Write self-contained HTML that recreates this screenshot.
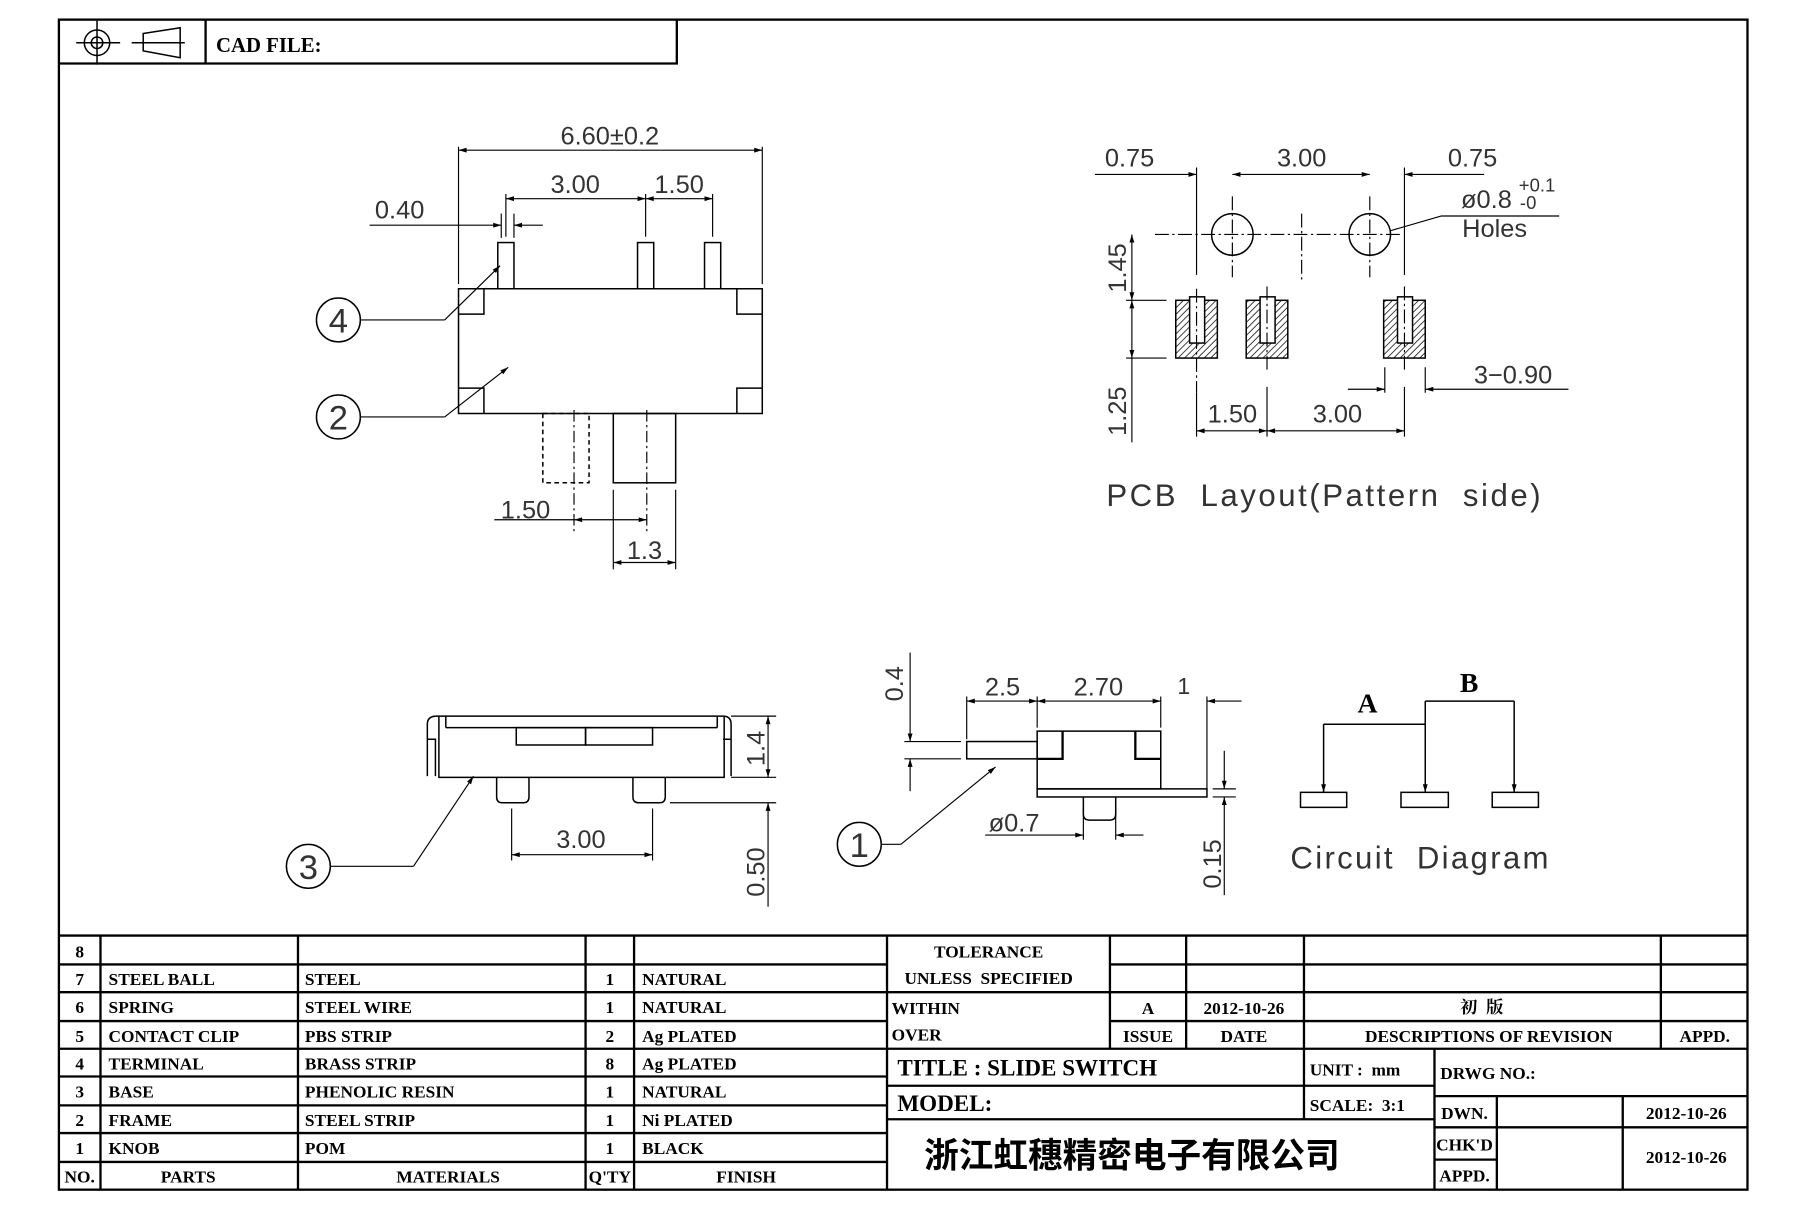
<!DOCTYPE html>
<html><head><meta charset="utf-8"><style>
html,body{margin:0;padding:0;background:#fff;}
svg{display:block;}
.d{font-family:"Liberation Sans",sans-serif;font-size:22px;fill:#333;}
.t{font-family:"Liberation Serif",serif;font-weight:bold;font-size:15px;fill:#000;}
</style></head><body>
<svg width="1811" height="1207" viewBox="0 0 1568 1045" preserveAspectRatio="none" xmlns="http://www.w3.org/2000/svg">
<defs>
<marker id="a" viewBox="0 0 10 10" refX="10" refY="5" markerWidth="9" markerHeight="7" orient="auto-start-reverse" markerUnits="userSpaceOnUse"><path d="M0,2 L10,5 L0,8z" fill="#000"/></marker>
<pattern id="h" width="4" height="4" patternUnits="userSpaceOnUse" patternTransform="rotate(45)"><rect width="4" height="4" fill="#fff"/><line x1="0" y1="0" x2="0" y2="4" stroke="#333" stroke-width="1.6"/></pattern>
</defs>
<g fill="none" stroke="#000" stroke-width="1.3">
<rect x="51" y="17" width="1462" height="1013" stroke-width="2"/>
<path d="M51 55 H586 V17 M178 17 V55" stroke-width="2"/>
<circle cx="84" cy="37" r="11"/><circle cx="84" cy="37" r="5"/><path d="M66 37 H104 M84 18 V56"/>
<path d="M124 29 L156 24 V50 L124 44Z M114 37 H160"/>
</g>
<text class="t" x="187" y="45" style="font-size:18px">CAD FILE:</text>

<g fill="none" stroke="#000" stroke-width="1.3">
<rect x="397" y="250" width="263" height="108"/>
<path d="M397 272 H419 V250 M660 272 H638 V250 M397 336 H419 V358 M660 336 H638 V358"/>
<rect x="431" y="210" width="14" height="40"/><rect x="552" y="210" width="14" height="40"/><rect x="610" y="210" width="14" height="40"/>
<path d="M397 246 V127 M660 246 V127" stroke-width="1"/>
<line x1="397" y1="130" x2="660" y2="130" marker-start="url(#a)" marker-end="url(#a)" stroke-width="1"/>
<path d="M438 205 V168 M559 205 V168 M617 205 V168" stroke-width="1"/>
<line x1="438" y1="172" x2="559" y2="172" marker-start="url(#a)" marker-end="url(#a)" stroke-width="1"/>
<line x1="559" y1="172" x2="617" y2="172" marker-start="url(#a)" marker-end="url(#a)" stroke-width="1"/>
<path d="M434 185 V206 M445 185 V206" stroke-width="1"/>
<line x1="320" y1="195" x2="434" y2="195" marker-end="url(#a)" stroke-width="1"/>
<line x1="470" y1="195" x2="445" y2="195" marker-end="url(#a)" stroke-width="1"/>
<rect x="470" y="358" width="40" height="60" stroke-dasharray="4 3"/>
<rect x="531" y="358" width="54" height="60"/>
<path d="M497 355 V460 M560 355 V460" stroke-dasharray="10 3 2 3" stroke-width="1"/>
<line x1="428" y1="450" x2="497" y2="450" stroke-width="1"/>
<line x1="497" y1="450" x2="560" y2="450" marker-start="url(#a)" marker-end="url(#a)" stroke-width="1"/>
<path d="M531 424 V493 M585 424 V493" stroke-width="1"/>
<line x1="531" y1="487" x2="585" y2="487" marker-start="url(#a)" marker-end="url(#a)" stroke-width="1"/>
<circle cx="293" cy="277" r="19"/><path d="M312 277 H385" stroke-width="1"/><line x1="385" y1="277" x2="433" y2="230" marker-end="url(#a)" stroke-width="1"/>
<circle cx="293" cy="361" r="19"/><path d="M312 361 H385" stroke-width="1"/><line x1="385" y1="361" x2="440" y2="318" marker-end="url(#a)" stroke-width="1"/>
</g>
<text class="d" x="528" y="125" text-anchor="middle">6.60±0.2</text>
<text class="d" x="498" y="167" text-anchor="middle">3.00</text>
<text class="d" x="588" y="167" text-anchor="middle">1.50</text>
<text class="d" x="346" y="189" text-anchor="middle">0.40</text>
<text class="d" x="455" y="449" text-anchor="middle">1.50</text>
<text class="d" x="558" y="484" text-anchor="middle">1.3</text>
<text class="d" x="293" y="288" text-anchor="middle" style="font-size:30px">4</text>
<text class="d" x="293" y="372" text-anchor="middle" style="font-size:30px">2</text>

<g fill="none" stroke="#000" stroke-width="1.3">
<rect x="1018" y="260" width="36" height="50" fill="url(#h)"/>
<rect x="1079" y="260" width="36" height="50" fill="url(#h)"/>
<rect x="1198" y="260" width="36" height="50" fill="url(#h)"/>
<rect x="1030" y="257" width="13" height="40" fill="#fff"/>
<rect x="1091" y="257" width="13" height="40" fill="#fff"/>
<rect x="1210" y="257" width="13" height="40" fill="#fff"/>
<circle cx="1067" cy="203" r="18"/><circle cx="1186" cy="203" r="18"/>
<path d="M1000 203 H1215 M1067 170 V240 M1186 170 V240 M1127 185 V245" stroke-dasharray="12 3 2 3" stroke-width="1"/>
<path d="M1036 250 V340 M1097 248 V320 M1216 248 V320" stroke-dasharray="12 3 2 3" stroke-width="1"/>
<path d="M1036 145 V238 M1216 145 V238 M1036 340 V378 M1097 335 V378 M1216 335 V378" stroke-width="1"/>
<line x1="948" y1="151" x2="1036" y2="151" marker-end="url(#a)" stroke-width="1"/>
<line x1="1067" y1="151" x2="1186" y2="151" marker-start="url(#a)" marker-end="url(#a)" stroke-width="1"/>
<line x1="1285" y1="151" x2="1216" y2="151" marker-end="url(#a)" stroke-width="1"/>
<path d="M1203 200 L1248 187 H1350" stroke-width="1"/>
<path d="M975 260 H1010 M975 310 H1010" stroke-width="1"/>
<line x1="980" y1="203" x2="980" y2="260" marker-start="url(#a)" marker-end="url(#a)" stroke-width="1"/>
<line x1="980" y1="260" x2="980" y2="310" marker-start="url(#a)" marker-end="url(#a)" stroke-width="1"/>
<line x1="980" y1="310" x2="980" y2="383" stroke-width="1"/>
<line x1="1036" y1="373" x2="1097" y2="373" marker-start="url(#a)" marker-end="url(#a)" stroke-width="1"/>
<line x1="1097" y1="373" x2="1216" y2="373" marker-start="url(#a)" marker-end="url(#a)" stroke-width="1"/>
<path d="M1199 318 V340 M1234 318 V340" stroke-width="1"/>
<line x1="1167" y1="337" x2="1199" y2="337" marker-end="url(#a)" stroke-width="1"/>
<line x1="1358" y1="337" x2="1234" y2="337" marker-end="url(#a)" stroke-width="1"/>
</g>
<text class="d" x="978" y="144" text-anchor="middle">0.75</text>
<text class="d" x="1127" y="144" text-anchor="middle">3.00</text>
<text class="d" x="1275" y="144" text-anchor="middle">0.75</text>
<text class="d" x="1265" y="180">ø0.8</text>
<text class="d" x="1315" y="166" style="font-size:16px">+0.1</text>
<text class="d" x="1316" y="181" style="font-size:16px">-0</text>
<text class="d" x="1266" y="205">Holes</text>
<text class="d" transform="translate(975,232) rotate(-90)" text-anchor="middle">1.45</text>
<text class="d" transform="translate(975,356) rotate(-90)" text-anchor="middle">1.25</text>
<text class="d" x="1067" y="366" text-anchor="middle">1.50</text>
<text class="d" x="1158" y="366" text-anchor="middle">3.00</text>
<text class="d" x="1310" y="332" text-anchor="middle">3−0.90</text>
<text class="d" x="1147" y="438" text-anchor="middle" style="font-size:27px;letter-spacing:2.2px" xml:space="preserve">PCB  Layout(Pattern  side)</text>

<g fill="none" stroke="#000" stroke-width="1.3">
<path d="M370 672 V627 Q370 620 378 620 H626 Q633 620 633 627 V672"/>
<path d="M380 620 V673 H627 V620"/>
<path d="M386 630 H621 M386 620 V630 M621 620 V630"/>
<path d="M370 640 H377 V672 M633 640 H626"/>
<rect x="447" y="630" width="60" height="15"/><rect x="507" y="630" width="58" height="15"/>
<path d="M430 673 V690 Q430 695 435 695 H453 Q458 695 458 690 V673"/>
<path d="M548 673 V690 Q548 695 553 695 H571 Q576 695 576 690 V673"/>
<path d="M633 620 H672 M633 673 H672 M580 695 H672" stroke-width="1"/>
<line x1="665" y1="620" x2="665" y2="673" marker-start="url(#a)" marker-end="url(#a)" stroke-width="1"/>
<line x1="665" y1="785" x2="665" y2="695" marker-end="url(#a)" stroke-width="1"/>
<path d="M443 700 V745 M565 700 V745" stroke-width="1"/>
<line x1="443" y1="740" x2="565" y2="740" marker-start="url(#a)" marker-end="url(#a)" stroke-width="1"/>
<circle cx="267" cy="750" r="19"/><path d="M286 750 H358" stroke-width="1"/><line x1="358" y1="750" x2="410" y2="672" marker-end="url(#a)" stroke-width="1"/>
</g>
<text class="d" x="503" y="734" text-anchor="middle">3.00</text>
<text class="d" transform="translate(662,648) rotate(-90)" text-anchor="middle">1.4</text>
<text class="d" transform="translate(662,755) rotate(-90)" text-anchor="middle">0.50</text>
<text class="d" x="267" y="761" text-anchor="middle" style="font-size:30px">3</text>

<g fill="none" stroke="#000" stroke-width="1.3">
<rect x="898" y="633" width="107" height="50"/>
<path d="M898 657 H920 V633 M1005 657 H983 V633" stroke-width="2"/>
<rect x="898" y="683" width="147" height="7"/>
<rect x="837" y="642" width="61" height="15"/>
<path d="M938 690 V705 Q938 710 943 710 H961 Q966 710 966 705 V690"/>
<path d="M837 603 V640 M898 603 V630 M1005 603 V630 M1045 603 V683" stroke-width="1"/>
<line x1="837" y1="607" x2="898" y2="607" marker-start="url(#a)" marker-end="url(#a)" stroke-width="1"/>
<line x1="898" y1="607" x2="1005" y2="607" marker-start="url(#a)" marker-end="url(#a)" stroke-width="1"/>
<line x1="1075" y1="607" x2="1045" y2="607" marker-end="url(#a)" stroke-width="1"/>
<path d="M783 642 H832 M783 657 H832 M1050 683 H1070 M1050 690 H1070" stroke-width="1"/>
<line x1="788" y1="565" x2="788" y2="642" marker-end="url(#a)" stroke-width="1"/>
<line x1="788" y1="685" x2="788" y2="657" marker-end="url(#a)" stroke-width="1"/>
<line x1="1060" y1="650" x2="1060" y2="683" marker-end="url(#a)" stroke-width="1"/>
<line x1="1060" y1="775" x2="1060" y2="690" marker-end="url(#a)" stroke-width="1"/>
<path d="M938 700 V727 M966 700 V727" stroke-width="1"/>
<line x1="853" y1="723" x2="938" y2="723" marker-end="url(#a)" stroke-width="1"/>
<line x1="990" y1="723" x2="966" y2="723" marker-end="url(#a)" stroke-width="1"/>
<circle cx="744" cy="731" r="19"/><path d="M763 731 H780" stroke-width="1"/><line x1="780" y1="731" x2="862" y2="664" marker-end="url(#a)" stroke-width="1"/>
</g>
<text class="d" x="868" y="602" text-anchor="middle">2.5</text>
<text class="d" x="951" y="602" text-anchor="middle">2.70</text>
<text class="d" x="1025" y="601" text-anchor="middle" style="font-size:20px">1</text>
<text class="d" x="878" y="720" text-anchor="middle">ø0.7</text>
<text class="d" transform="translate(782,592) rotate(-90)" text-anchor="middle">0.4</text>
<text class="d" transform="translate(1057,748) rotate(-90)" text-anchor="middle">0.15</text>
<text class="d" x="744" y="742" text-anchor="middle" style="font-size:30px">1</text>

<g fill="none" stroke="#000" stroke-width="1.3">
<path d="M1234 607 H1311 M1234 627 H1146"/>
<line x1="1234" y1="607" x2="1234" y2="686" marker-end="url(#a)"/>
<line x1="1311" y1="607" x2="1311" y2="686" marker-end="url(#a)"/>
<line x1="1146" y1="627" x2="1146" y2="686" marker-end="url(#a)"/>
<rect x="1126" y="686" width="40" height="13"/><rect x="1213" y="686" width="41" height="13"/><rect x="1292" y="686" width="40" height="13"/>
</g>
<text class="t" x="1184" y="617" text-anchor="middle" style="font-size:24px">A</text>
<text class="t" x="1272" y="599" text-anchor="middle" style="font-size:24px">B</text>
<text class="d" x="1230" y="752" text-anchor="middle" style="font-size:27px;letter-spacing:2px" xml:space="preserve">Circuit  Diagram</text>

<g fill="none" stroke="#000" stroke-width="2">
<path d="M51 810 H1513"/>
<path d="M51 835 H768 M51 859 H768 M51 884 H768 M51 908 H768 M51 932 H768 M51 957 H768 M51 981 H768 M51 1006 H768"/>
<path d="M87 810 V1030 M258 810 V1030 M507 810 V1030 M549 810 V1030 M768 810 V1030"/>
<path d="M961 835 H1513 M768 859 H1513 M961 884 H1513 M768 908 H1513"/>
<path d="M961 810 V908 M1027 810 V908 M1129 810 V908 M1438 810 V908"/>
<path d="M768 940 H1242 M768 969 H1242 M1129 908 V969 M1242 908 V1030"/>
<path d="M1242 949 H1513 M1242 976 H1513 M1242 1004 H1296 M1296 949 V1030 M1405 949 V1030 M1405 976 H1513"/>
</g>
<g>
<text x="69" y="829" text-anchor="middle" class="t">8</text>
<text x="69" y="853" text-anchor="middle" class="t">7</text>
<text x="69" y="877" text-anchor="middle" class="t">6</text>
<text x="69" y="902" text-anchor="middle" class="t">5</text>
<text x="69" y="926" text-anchor="middle" class="t">4</text>
<text x="69" y="950" text-anchor="middle" class="t">3</text>
<text x="69" y="975" text-anchor="middle" class="t">2</text>
<text x="69" y="999" text-anchor="middle" class="t">1</text>
<text x="69" y="1024" text-anchor="middle" class="t">NO.</text>
<text x="94" y="853" class="t">STEEL BALL</text>
<text x="94" y="877" class="t">SPRING</text>
<text x="94" y="902" class="t">CONTACT CLIP</text>
<text x="94" y="926" class="t">TERMINAL</text>
<text x="94" y="950" class="t">BASE</text>
<text x="94" y="975" class="t">FRAME</text>
<text x="94" y="999" class="t">KNOB</text>
<text x="163" y="1024" text-anchor="middle" class="t">PARTS</text>
<text x="264" y="853" class="t">STEEL</text>
<text x="264" y="877" class="t">STEEL WIRE</text>
<text x="264" y="902" class="t">PBS STRIP</text>
<text x="264" y="926" class="t">BRASS STRIP</text>
<text x="264" y="950" class="t">PHENOLIC RESIN</text>
<text x="264" y="975" class="t">STEEL STRIP</text>
<text x="264" y="999" class="t">POM</text>
<text x="388" y="1024" text-anchor="middle" class="t">MATERIALS</text>
<text x="528" y="853" text-anchor="middle" class="t">1</text>
<text x="528" y="877" text-anchor="middle" class="t">1</text>
<text x="528" y="902" text-anchor="middle" class="t">2</text>
<text x="528" y="926" text-anchor="middle" class="t">8</text>
<text x="528" y="950" text-anchor="middle" class="t">1</text>
<text x="528" y="975" text-anchor="middle" class="t">1</text>
<text x="528" y="999" text-anchor="middle" class="t">1</text>
<text x="528" y="1024" text-anchor="middle" class="t">Q'TY</text>
<text x="556" y="853" class="t">NATURAL</text>
<text x="556" y="877" class="t">NATURAL</text>
<text x="556" y="902" class="t">Ag PLATED</text>
<text x="556" y="926" class="t">Ag PLATED</text>
<text x="556" y="950" class="t">NATURAL</text>
<text x="556" y="975" class="t">Ni PLATED</text>
<text x="556" y="999" class="t">BLACK</text>
<text x="646" y="1024" text-anchor="middle" class="t">FINISH</text>
<text x="856" y="829" text-anchor="middle" class="t">TOLERANCE</text>
<text x="856" y="852" text-anchor="middle" class="t" xml:space="preserve">UNLESS  SPECIFIED</text>
<text x="772" y="878" class="t">WITHIN</text>
<text x="772" y="901" class="t">OVER</text>
<text x="994" y="878" text-anchor="middle" class="t">A</text>
<text x="1077" y="878" text-anchor="middle" class="t">2012-10-26</text>
<text x="1283" y="877" text-anchor="middle" class="t" style="font-family:'Noto Serif CJK SC',serif" xml:space="preserve">初  版</text>
<text x="994" y="902" text-anchor="middle" class="t">ISSUE</text>
<text x="1077" y="902" text-anchor="middle" class="t">DATE</text>
<text x="1289" y="902" text-anchor="middle" class="t">DESCRIPTIONS OF REVISION</text>
<text x="1476" y="902" text-anchor="middle" class="t">APPD.</text>
<text x="777" y="931" class="t" style="font-size:20px">TITLE : SLIDE SWITCH</text>
<text x="777" y="962" class="t" style="font-size:20px">MODEL:</text>
<text x="1134" y="931" class="t" xml:space="preserve">UNIT :  mm</text>
<text x="1134" y="962" class="t" xml:space="preserve">SCALE:  3:1</text>
<text x="1247" y="934" class="t">DRWG NO.:</text>
<text x="1268" y="969" text-anchor="middle" class="t">DWN.</text>
<text x="1268" y="996" text-anchor="middle" class="t">CHK'D</text>
<text x="1268" y="1023" text-anchor="middle" class="t">APPD.</text>
<text x="1460" y="969" text-anchor="middle" class="t">2012-10-26</text>
<text x="1460" y="1007" text-anchor="middle" class="t">2012-10-26</text>
<text x="980" y="1011" text-anchor="middle" font-family="'Liberation Sans','Noto Sans CJK SC',sans-serif" font-weight="bold" font-size="30" fill="#000">浙江虹穗精密电子有限公司</text>
</g>
</svg>
</body></html>
